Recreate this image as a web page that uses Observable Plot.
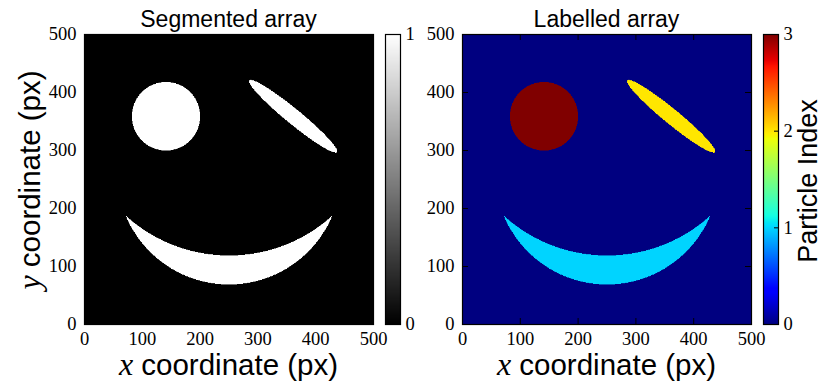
<!DOCTYPE html>
<html><head><meta charset="utf-8">
<script src="https://cdn.jsdelivr.net/npm/d3@7"></script>
<script src="https://cdn.jsdelivr.net/npm/@observablehq/plot@0.6"></script>
<style>
body{margin:0;background:#fff;}
#fig{position:relative;width:823px;height:383px;overflow:hidden;background:#fff;}
#fig svg{position:absolute;top:0;}
</style></head><body><div id="fig"></div>
<script>
// ---- data ----
const imageDomain = [0, 500];
const axisTicks = [0, 100, 200, 300, 400, 500];
const segmentedTicks = [0, 1];
const labelTicks = [0, 1, 2, 3];
const panelTitles = ["Segmented array", "Labelled array"];
const axisLabelVar = ["x", "y"];
const axisLabelText = "coordinate (px)";
const colorbarLabel = "Particle Index";
// particles (index: 1 = smile, 2 = ellipse, 3 = circle)
const particleIndex = [1, 2, 3];
const circleCentre = [141, 359];
const circleRadius = [59];
const ellipseCentre = [361, 359];
const ellipseSemiAxes = [98, 13];
const ellipseAngleDeg = [-39.2];
const smileOuterCentre = [250, 263];
const smileOuterRadius = [194];
const smileInnerCentre = [250, 386];
const smileInnerRadius = [267];

// matplotlib "jet" segment data (colormap definition)
const jetR = [[0,0],[0.35,0],[0.66,1],[0.89,1],[1,0.5]];
const jetG = [[0,0],[0.125,0],[0.375,1],[0.64,1],[0.91,0],[1,0]];
const jetB = [[0,0.5],[0.11,1],[0.34,1],[0.65,0],[1,0]];
const jetStops = [0,0.11,0.125,0.34,0.35,0.375,0.64,0.65,0.66,0.89,0.91,1];
const chan = seg => d3.scaleLinear(seg.map(d=>d[0]), seg.map(d=>d[1])).clamp(true);
const cr = chan(jetR), cg = chan(jetG), cb = chan(jetB);
const jetRange = jetStops.map(t => d3.rgb(cr(t)*255, cg(t)*255, cb(t)*255).formatHex());
const jetDomain = jetStops.map(t => t * 3);

function particleAt(x, y) {
  if (Math.hypot(x - circleCentre[0], y - circleCentre[1]) <= circleRadius[0]) return particleIndex[2];
  const a = ellipseAngleDeg[0] * Math.PI / 180;
  const dx = x - ellipseCentre[0], dy = y - ellipseCentre[1];
  const u = dx*Math.cos(a) + dy*Math.sin(a), v = -dx*Math.sin(a) + dy*Math.cos(a);
  if ((u/ellipseSemiAxes[0])**2 + (v/ellipseSemiAxes[1])**2 <= 1) return particleIndex[1];
  const inOuter = Math.hypot(x - smileOuterCentre[0], y - smileOuterCentre[1]) <= smileOuterRadius[0];
  const inInner = Math.hypot(x - smileInnerCentre[0], y - smileInnerCentre[1]) <= smileInnerRadius[0];
  if (inOuter && !inInner) return particleIndex[0];
  return 0;
}

const fig = document.getElementById("fig");
const tickFont = {fontFamily: "'Liberation Serif', serif", fontSize: 18.5, tickFormat: d => String(d)};

function panel(left, color, fill) {
  const svg = Plot.plot({
    width: 380, height: 383, marginLeft: 84, marginRight: 7, marginTop: 34, marginBottom: 59,
    style: {background: "transparent", overflow: "visible", fontFamily: "'Liberation Serif', serif", fontSize: "18px", color: "black"},
    x: {domain: imageDomain}, y: {domain: imageDomain},
    color,
    marks: [
      Plot.raster({x1: imageDomain[0], x2: imageDomain[1], y1: imageDomain[0], y2: imageDomain[1], width: 500, height: 500, fill}),
      Plot.axisX(axisTicks, {anchor: "bottom", tickSize: 0, tickPadding: 7, label: null, ...tickFont}),
      Plot.axisY(axisTicks, {anchor: "left", tickSize: 0, tickPadding: 8, label: null, ...tickFont}),
      Plot.ruleX(axisTicks, {insetTop: 284, stroke: "black"}),
      Plot.ruleX(axisTicks, {insetBottom: 284, stroke: "black"}),
      Plot.ruleY(axisTicks, {insetRight: 283, stroke: "black"}),
      Plot.ruleY(axisTicks, {insetLeft: 283, stroke: "black"}),
      Plot.frame({stroke: "black", strokeWidth: 1.2})
    ]
  });
  svg.style.left = left + "px";
  fig.appendChild(svg);
}

function colorbar(left, color, domain, ticks, showTicks) {
  const svg = Plot.plot({
    width: 65, height: 383, marginLeft: 10, marginRight: 40, marginTop: 34, marginBottom: 59,
    style: {background: "transparent", overflow: "visible", color: "black"},
    x: {domain: [0, 1], axis: null}, y: {domain, axis: null},
    color,
    marks: [
      Plot.raster({x1: 0, x2: 1, y1: domain[0], y2: domain[1], width: 1, height: 290, fill: (x, y) => y}),
      Plot.axisY(ticks, {anchor: "right", tickSize: 0, tickPadding: 5, label: null, textAnchor: "start", ...tickFont}),
      showTicks ? Plot.ruleY(ticks, {insetLeft: 11, stroke: "black"}) : null,
      Plot.frame({stroke: "black", strokeWidth: 1.2})
    ]
  });
  svg.style.left = left + "px";
  fig.appendChild(svg);
}

const grayColor = {type: "linear", domain: [0, 1], range: ["black", "white"], interpolate: "rgb"};
const jetColor = {type: "linear", domain: jetDomain, range: jetRange, interpolate: "rgb"};

panel(0, grayColor, (x, y) => particleAt(x, y) > 0 ? 1 : 0);
colorbar(375, grayColor, [0, 1], segmentedTicks, false);
panel(378, jetColor, (x, y) => particleAt(x, y));
colorbar(753, jetColor, [0, 3], labelTicks, true);

// text overlay
const ov = d3.select(fig).append("svg").attr("width", 823).attr("height", 383).style("left", "0px");
const sans = "'Liberation Sans', Arial, sans-serif";
const serif = "'Liberation Serif', serif";
[228.5, 606.5].forEach((cx, i) => {
  ov.append("text").attr("x", cx).attr("y", 27).attr("text-anchor", "middle")
    .attr("font-family", sans).attr("font-size", 23).text(panelTitles[i]);
  const t = ov.append("text").attr("x", cx).attr("y", 375).attr("text-anchor", "middle")
    .attr("font-family", sans).attr("font-size", 29.5);
  t.append("tspan").attr("font-family", serif).attr("font-style", "italic").attr("font-size", 32).text(axisLabelVar[0]);
  t.append("tspan").text(" " + axisLabelText);
});
const yl = ov.append("text").attr("transform", "translate(40,180) rotate(-90)").attr("text-anchor", "middle")
  .attr("font-family", sans).attr("font-size", 29.5);
yl.append("tspan").attr("font-family", serif).attr("font-style", "italic").attr("font-size", 32).text(axisLabelVar[1]);
yl.append("tspan").text(" " + axisLabelText);
ov.append("text").attr("transform", "translate(817,181) rotate(-90)").attr("text-anchor", "middle")
  .attr("font-family", sans).attr("font-size", 27).text(colorbarLabel);
</script></body></html>
